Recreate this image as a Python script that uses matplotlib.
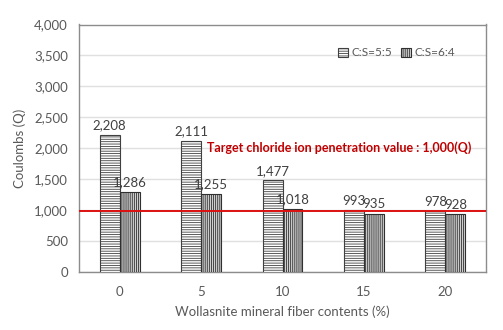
import numpy as np
import matplotlib
matplotlib.use("Agg")
from matplotlib import pyplot as plt

plt.rcParams['font.family'] = ['Lato', 'DejaVu Sans']
plt.rcParams['hatch.linewidth'] = 0.6

contents = ["0", "5", "10", "15", "20"]
cs55 = [2208, 2111, 1477, 993, 978]
cs64 = [1286, 1255, 1018, 935, 928]
target = 980
series_names = ["C:S=5:5", "C:S=6:4"]

txt = "#595959"
fig = plt.figure(figsize=(5.03, 3.30), dpi=100)
ax = fig.add_axes([79/503, 1 - 271.7/330, 407/503, 247.2/330])

x = np.arange(len(contents))
w = 0.245
ax.bar(x - w/2, cs55, w, color="white", edgecolor="#404040", linewidth=0.8,
       hatch="-------", label=series_names[0], zorder=3)
ax.bar(x + w/2, cs64, w, color="#d0d0d0", edgecolor="#303030", linewidth=0.8,
       hatch="||||||||", label=series_names[1], zorder=3)

for i in range(len(contents)):
    ax.text(x[i] - w/2, cs55[i] + 60, f"{cs55[i]:,}", ha="center", va="bottom",
            fontsize=9.5, color="#404040", zorder=5)
    ax.text(x[i] + w/2, cs64[i] + 60, f"{cs64[i]:,}", ha="center", va="bottom",
            fontsize=9.5, color="#404040", zorder=5)

ax.axhline(target, color="#dd1010", linewidth=1.4, zorder=4)
ax.text(0.965, 0.50, "Target chloride ion penetration value : 1,000(Q)",
        transform=ax.transAxes, ha="right", va="center", fontsize=9,
        fontweight="bold", color="#c00000", zorder=5)

ax.set_xlim(-0.5, len(contents) - 0.5)
ax.set_ylim(0, 4000)
ax.set_yticks(np.arange(0, 4001, 500))
ax.set_yticklabels([f"{v:,}" for v in range(0, 4001, 500)])
ax.set_xticks(x)
ax.set_xticklabels(contents)
ax.tick_params(axis="both", length=0, labelsize=9.5, labelcolor=txt, pad=8)
ax.tick_params(axis="x", pad=10)
ax.grid(axis="y", color="#e0e0e0", linewidth=1, zorder=0)
for s in ax.spines.values():
    s.set_color("#8c8c8c")
    s.set_linewidth(1)

ax.set_xlabel("Wollasnite mineral fiber contents (%)", fontsize=9.5, color=txt, labelpad=6)
ax.set_ylabel("Coulombs (Q)", fontsize=9.5, color=txt, labelpad=6)

ax.legend(loc="upper right", bbox_to_anchor=(0.95, 0.95), ncol=2, frameon=False,
          fontsize=8.5, labelcolor=txt, handlelength=0.8, handleheight=0.8,
          handletextpad=0.3, columnspacing=0.8)

fig.savefig("out.png", dpi=100)
